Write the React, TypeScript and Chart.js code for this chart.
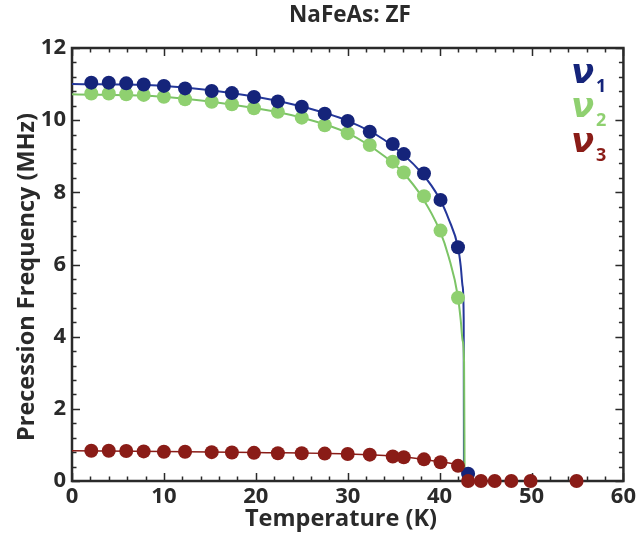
import React, { useEffect, useRef } from 'react';
import { Chart, registerables } from 'chart.js';

Chart.register(...registerables);

// Measured points (T in K, frequency in MHz)
const temps = [2.1, 4.0, 5.9, 7.8, 10.0, 12.3, 15.2, 17.4, 19.8, 22.4, 25.0, 27.5, 30.0, 32.4, 34.9, 36.1, 38.3, 40.1, 42.0];
const nu1 = [11.04, 11.04, 11.02, 10.99, 10.95, 10.88, 10.81, 10.75, 10.64, 10.52, 10.37, 10.18, 9.98, 9.68, 9.34, 9.06, 8.52, 7.79, 6.48];
const nu2 = [10.74, 10.74, 10.72, 10.70, 10.65, 10.58, 10.51, 10.44, 10.33, 10.23, 10.07, 9.86, 9.64, 9.31, 8.85, 8.55, 7.89, 6.94, 5.08];
const nu3 = [0.84, 0.84, 0.83, 0.82, 0.81, 0.81, 0.80, 0.79, 0.78, 0.77, 0.77, 0.76, 0.75, 0.73, 0.68, 0.66, 0.60, 0.52, 0.42];

const tempsAbove = [43.1, 44.5, 46.0, 47.8, 49.9, 54.9];
const nu1Above = [0.2];
const nu3Above = [0, 0, 0, 0, 0, 0];

// Fit curves
const fitT1 = [0, 10, 20, 25, 30, 34, 38, 40, 41, 42, 42.3, 42.5, 42.62, 42.65];
const fit1 = [11.0, 10.95, 10.65, 10.38, 9.98, 9.45, 8.55, 7.82, 7.25, 6.48, 5.95, 5.4, 4.5, 0];
const fitT2 = [0, 10, 20, 25, 30, 34, 36, 38, 40, 41, 42, 42.3, 42.5, 42.66, 42.72];
const fit2 = [10.72, 10.65, 10.33, 10.07, 9.64, 9.0, 8.55, 7.9, 6.95, 6.2, 5.1, 4.45, 3.9, 3.3, 0];
const fitT3 = [0, 10, 20, 30, 35, 38, 40, 42, 42.4, 42.65];
const fit3 = [0.84, 0.82, 0.79, 0.75, 0.69, 0.61, 0.53, 0.42, 0.3, 0];

const xTicks = [0, 10, 20, 30, 40, 50, 60];
const yTicks = [0, 2, 4, 6, 8, 10, 12];

const BLUE = '#15247a';
const GREEN = '#8fd070';
const RED = '#8a1c17';
const AXIS = '#2a2a2a';
const FONT = "'Open Sans', sans-serif";

const pts = (xs: number[], ys: number[]) => ys.map((y, i) => ({ x: xs[i], y }));

const framePlugin = {
  id: 'frame',
  beforeDatasetsDraw(chart: any) {
    const { ctx, chartArea: a, scales } = chart;
    const xs = scales.x;
    const ys = scales.y;
    ctx.save();
    ctx.strokeStyle = AXIS;
    ctx.lineWidth = 1.5;
    for (let v = 0; v <= 60; v += 2) {
      const px = Math.round(xs.getPixelForValue(v)) + 0.5;
      const len = v % 10 === 0 ? 8 : 4.5;
      ctx.beginPath();
      ctx.moveTo(px, a.bottom);
      ctx.lineTo(px, a.bottom - len);
      ctx.moveTo(px, a.top);
      ctx.lineTo(px, a.top + len);
      ctx.stroke();
    }
    for (let k = 0; k <= 30; k++) {
      const v = k * 0.4;
      const py = Math.round(ys.getPixelForValue(v)) + 0.5;
      const len = k % 5 === 0 ? 8 : 4.5;
      ctx.beginPath();
      ctx.moveTo(a.left, py);
      ctx.lineTo(a.left + len, py);
      ctx.moveTo(a.right, py);
      ctx.lineTo(a.right - len, py);
      ctx.stroke();
    }
    ctx.lineWidth = 2.5;
    ctx.strokeRect(a.left, a.top, a.right - a.left, a.bottom - a.top);
    ctx.restore();
  },
  afterDraw(chart: any) {
    const { ctx } = chart;
    ctx.save();
    ctx.fillStyle = AXIS;
    ctx.textAlign = 'center';
    ctx.textBaseline = 'middle';
    ctx.font = `bold 22.5px ${FONT}`;
    ctx.fillText('NaFeAs: ZF', 350, 16);
    ctx.font = `bold 23.5px ${FONT}`;
    ctx.fillText('Temperature (K)', 341, 519);
    ctx.save();
    ctx.translate(27, 277);
    ctx.rotate(-Math.PI / 2);
    ctx.fillText('Precession Frequency (MHz)', 0, 0);
    ctx.restore();
    const items = [
      { c: BLUE, s: '1', y: 83 },
      { c: GREEN, s: '2', y: 117 },
      { c: RED, s: '3', y: 152 },
    ];
    ctx.textAlign = 'left';
    ctx.textBaseline = 'alphabetic';
    for (const it of items) {
      ctx.fillStyle = it.c;
      ctx.font = "bold italic 34px 'DejaVu Sans', sans-serif";
      ctx.fillText('ν', 571, it.y);
      ctx.font = `bold 18px ${FONT}`;
      ctx.fillText(it.s, 596, it.y + 9);
    }
    ctx.restore();
  },
};

export default function App() {
  const ref = useRef<HTMLCanvasElement | null>(null);
  useEffect(() => {
    if (!ref.current) return;
    const chart = new Chart(ref.current, {
      type: 'scatter',
      data: {
        datasets: [
          { label: 'ν3 above', data: pts(tempsAbove, nu3Above), backgroundColor: RED, borderWidth: 0, pointRadius: 7, clip: false as any, order: 0 },
          { label: 'ν3', data: pts(temps, nu3), backgroundColor: RED, borderWidth: 0, pointRadius: 7, clip: false as any, order: 1 },
          { label: 'ν1 above', data: pts(tempsAbove, nu1Above), backgroundColor: BLUE, borderWidth: 0, pointRadius: 7, clip: false as any, order: 2 },
          { label: 'ν1', data: pts(temps, nu1), backgroundColor: BLUE, borderWidth: 0, pointRadius: 7, clip: false as any, order: 3 },
          { label: 'ν2', data: pts(temps, nu2), backgroundColor: GREEN, borderWidth: 0, pointRadius: 7, clip: false as any, order: 4 },
          { type: 'line', label: 'fit3', data: pts(fitT3, fit3), borderColor: RED, borderWidth: 1.5, pointRadius: 0, showLine: true, cubicInterpolationMode: 'monotone', clip: false as any, order: 5 } as any,
          { type: 'line', label: 'fit2', data: pts(fitT2, fit2), borderColor: '#7cc466', borderWidth: 2, pointRadius: 0, showLine: true, cubicInterpolationMode: 'monotone', clip: false as any, order: 6 } as any,
          { type: 'line', label: 'fit1', data: pts(fitT1, fit1), borderColor: '#24379a', borderWidth: 2, pointRadius: 0, showLine: true, cubicInterpolationMode: 'monotone', clip: false as any, order: 7 } as any,
        ],
      },
      options: {
        responsive: false,
        animation: false,
        events: [],
        layout: { padding: { top: 48, right: 15, left: 0, bottom: 0 } },
        plugins: { legend: { display: false }, tooltip: { enabled: false }, title: { display: false } },
        scales: {
          x: {
            type: 'linear',
            min: 0,
            max: 60,
            afterFit: (s: any) => { s.height = 54; },
            afterBuildTicks: (s: any) => { s.ticks = xTicks.map((v) => ({ value: v })); },
            grid: { display: false, drawTicks: false },
            border: { display: false },
            ticks: { color: AXIS, padding: 3, maxRotation: 0, font: { family: FONT, size: 22, weight: 'bold' } },
          },
          y: {
            type: 'linear',
            min: 0,
            max: 12,
            afterFit: (s: any) => { s.width = 72; },
            afterBuildTicks: (s: any) => { s.ticks = yTicks.map((v) => ({ value: v })); },
            grid: { display: false, drawTicks: false },
            border: { display: false },
            ticks: { color: AXIS, padding: 6, font: { family: FONT, size: 22, weight: 'bold' } },
          },
        },
      },
      plugins: [framePlugin],
    });
    return () => chart.destroy();
  }, []);
  return (
    <div style={{ position: 'absolute', left: 0, top: 0, width: 639, height: 535, background: '#fff' }}>
      <canvas ref={ref} width={639} height={535} />
    </div>
  );
}
